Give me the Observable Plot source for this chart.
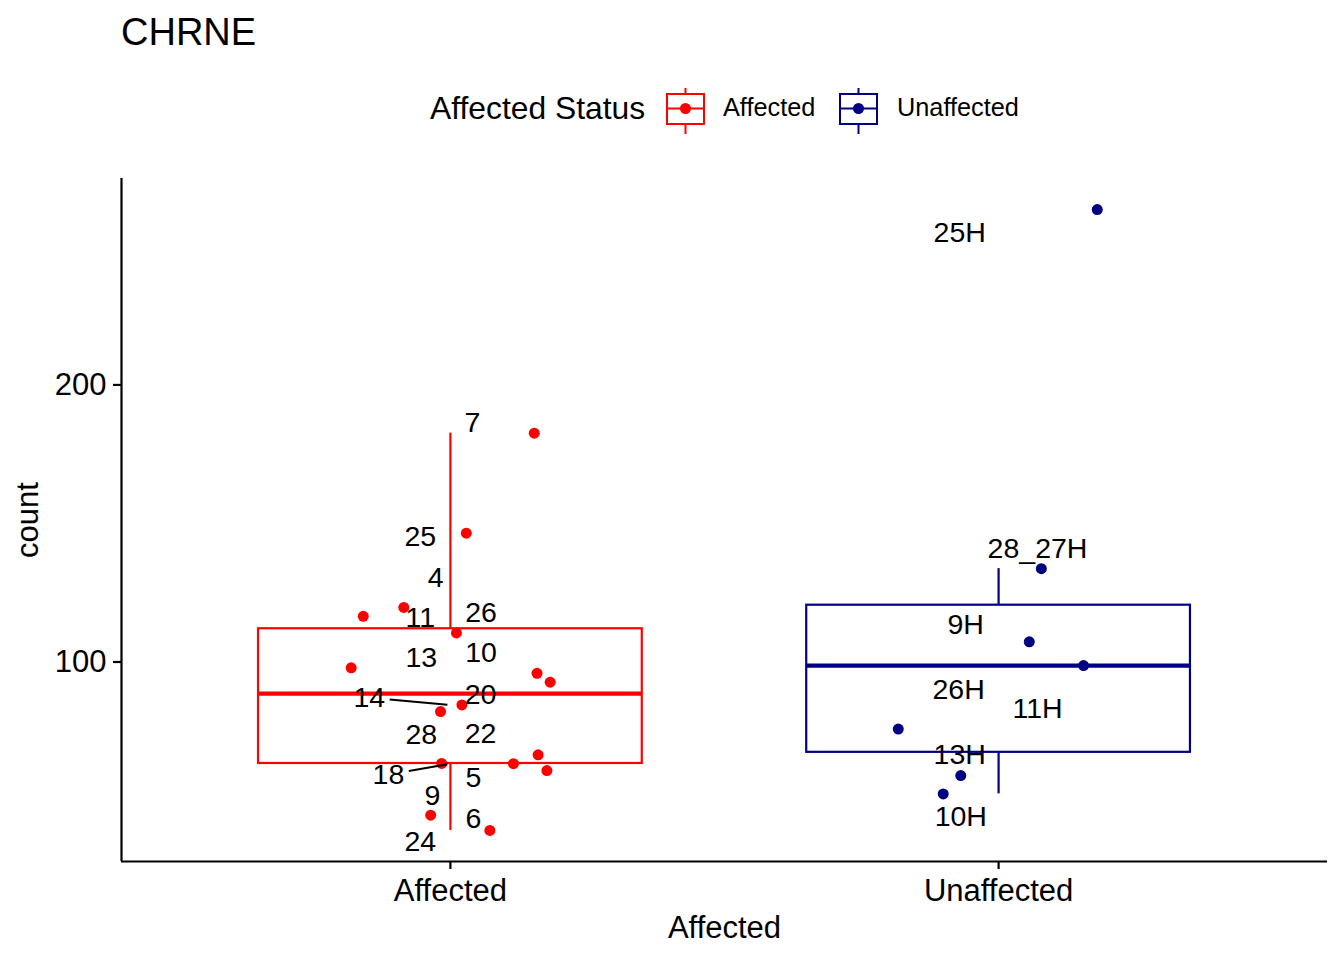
<!DOCTYPE html>
<html><head><meta charset="utf-8">
<script src="https://cdn.jsdelivr.net/npm/d3@7"></script>
<script src="https://cdn.jsdelivr.net/npm/@observablehq/plot@0.6"></script>
<style>
body{margin:0;background:#fff;font-family:"Liberation Sans",Arial,sans-serif;}
#header svg,#chart svg{display:block;}
</style></head><body>
<div id="header"></div>
<div id="chart"></div>
<script>
// ---- data ----
const title = "CHRNE";
const legendTitle = "Affected Status";
const groups = ["Affected", "Unaffected"];
const groupColors = ["#FF0000", "#000080"];
const yTicks = [100, 200];
const xTitle = "Affected";
const yTitle = "count";

const sampleGroup = [
  "Affected","Affected","Affected","Affected","Affected","Affected","Affected","Affected",
  "Affected","Affected","Affected","Affected","Affected","Affected","Affected","Affected",
  "Unaffected","Unaffected","Unaffected","Unaffected","Unaffected","Unaffected","Unaffected"
];
const sampleName = ["7","25","4","26","11","10","13","20","14","22","28","18","5","9","6","24",
  "25H","28_27H","9H","26H","11H","13H","10H"];
const sampleCount = [182.6,146.5,119.7,116.5,110.5,97.9,95.9,92.7,84.5,82.1,66.5,63.3,63.4,60.8,44.7,39.2,
  263.3,133.7,107.3,98.7,75.8,59.0,52.4];
// horizontal jitter of each point (category units)
const sampleJitter = [0.153,0.029,-0.085,-0.159,0.011,-0.181,0.158,0.182,0.021,-0.018,0.160,0.115,-0.016,0.176,-0.036,0.072,
  0.180,0.078,0.056,0.155,-0.183,-0.069,-0.101];
// repelled label positions (x in category units, y in count units)
const labelX = [1.040,0.945,0.973,1.056,0.945,1.056,0.947,1.055,0.852,1.055,0.947,0.887,1.042,0.967,1.042,0.945,
  1.929,2.071,1.940,1.927,2.071,1.929,1.931];
const labelY = [186.3,145.0,130.2,117.6,115.8,103.2,101.4,88.1,87.1,74.1,73.7,59.4,58.3,51.8,43.5,34.9,
  255.0,141.0,113.3,89.9,83.1,66.5,44.2];

// ---- layout ----
const FONT = '"Liberation Sans", Arial, sans-serif';
const W = 1344, H = 810, mL = 121, mR = 17, mT = 28, mB = 99;
const labelSize = 28.5, axisSize = 31;

const data = sampleName.map((name, i) => {
  const c = groups.indexOf(sampleGroup[i]) + 1;
  return {name, group: sampleGroup[i], count: sampleCount[i], cx: c, x: c + sampleJitter[i], lx: labelX[i], ly: labelY[i]};
});

const boxStats = groups.map((g, i) => {
  const v = data.filter(d => d.group === g).map(d => d.count).sort(d3.ascending);
  const q1 = d3.quantile(v, 0.25), med = d3.quantile(v, 0.5), q3 = d3.quantile(v, 0.75);
  const iqr = q3 - q1;
  const lo = d3.min(v.filter(x => x >= q1 - 1.5 * iqr));
  const hi = d3.max(v.filter(x => x <= q3 + 1.5 * iqr));
  return {group: g, x: i + 1, q1, med, q3, lo, hi};
});

const [ymin, ymax] = d3.extent(sampleCount);
const yPad = 0.05 * (ymax - ymin);
const yDomain = [ymin - yPad, ymax + yPad];
const xDomain = [1 - 0.6, groups.length + 0.6];
const boxHalf = 0.35;

// segments from labels to points (ggrepel-like)
const sx = d3.scaleLinear(xDomain, [mL, W - mR]);
const sy = d3.scaleLinear(yDomain, [H - mB, mT]);
const ctx = document.createElement("canvas").getContext("2d");
ctx.font = `${labelSize}px ${FONT}`;
const pad = 4.5, endGap = 3, minSeg = 30;
const segments = data.map(d => {
  const lx = sx(d.lx), ly = sy(d.ly), px = sx(d.cx), py = sy(d.count);
  const dx = px - lx, dy = py - ly, len = Math.hypot(dx, dy);
  const hw = ctx.measureText(d.name).width / 2 + pad, hh = 0.716 * labelSize / 2 + pad;
  const t = Math.min(dx ? hw / Math.abs(dx) : Infinity, dy ? hh / Math.abs(dy) : Infinity);
  if (t >= 1) return null;
  if ((1 - t) * len - endGap < minSeg) return null;
  const t2 = 1 - endGap / len;
  return {x1: sx.invert(lx + t * dx), y1: sy.invert(ly + t * dy), x2: sx.invert(lx + t2 * dx), y2: sy.invert(ly + t2 * dy)};
}).filter(Boolean);

// ---- header (title + legend) ----
const hdr = d3.select("#header").append("svg").attr("width", W).attr("height", 150)
  .style("font-family", FONT);
hdr.append("text").attr("x", 121).attr("y", 44.5).attr("font-size", 38).text(title);
hdr.append("text").attr("x", 430).attr("y", 118.5).attr("font-size", 31.8).text(legendTitle);
const keyX = [667, 840], labX = [723, 897];
groups.forEach((g, i) => {
  const c = groupColors[i], x0 = keyX[i], kw = 37, cx = x0 + kw / 2;
  const k = hdr.append("g").attr("stroke", c).attr("stroke-width", 2).attr("fill", "none");
  k.append("line").attr("x1", cx).attr("x2", cx).attr("y1", 88).attr("y2", 94);
  k.append("line").attr("x1", cx).attr("x2", cx).attr("y1", 124).attr("y2", 134);
  k.append("rect").attr("x", x0).attr("y", 94).attr("width", kw).attr("height", 30).attr("fill", "white");
  k.append("line").attr("x1", x0).attr("x2", x0 + kw).attr("y1", 108.5).attr("y2", 108.5);
  hdr.append("circle").attr("cx", cx).attr("cy", 108.5).attr("r", 5.5).attr("fill", c);
  hdr.append("text").attr("x", labX[i]).attr("y", 116).attr("font-size", 25.3).text(g);
});

// ---- chart ----
const chart = Plot.plot({
  width: W, height: H,
  marginLeft: mL, marginRight: mR, marginTop: mT, marginBottom: mB,
  x: {domain: xDomain},
  y: {domain: yDomain},
  color: {domain: groups, range: groupColors},
  style: {fontFamily: FONT, background: "white", color: "black"},
  marks: [
    Plot.ruleX(boxStats, {x: "x", y1: "q3", y2: "hi", stroke: "group", strokeWidth: 2.2}),
    Plot.ruleX(boxStats, {x: "x", y1: "lo", y2: "q1", stroke: "group", strokeWidth: 2.2}),
    Plot.rect(boxStats, {x1: d => d.x - boxHalf, x2: d => d.x + boxHalf, y1: "q1", y2: "q3", fill: "white", stroke: "group", strokeWidth: 2.2}),
    Plot.ruleY(boxStats, {y: "med", x1: d => d.x - boxHalf, x2: d => d.x + boxHalf, stroke: "group", strokeWidth: 4.3}),
    Plot.dot(data, {x: "x", y: "count", r: 5.5, fill: "group", stroke: null}),
    Plot.link(segments, {x1: "x1", y1: "y1", x2: "x2", y2: "y2", stroke: "black", strokeWidth: 2}),
    Plot.text(data, {x: "lx", y: "ly", text: "name", fontSize: labelSize, textAnchor: "middle", lineAnchor: "middle", fill: "black"}),
    Plot.ruleX([xDomain[0]], {stroke: "black", strokeWidth: 2.2}),
    Plot.ruleY([yDomain[0]], {stroke: "black", strokeWidth: 2.2}),
    Plot.axisY({ticks: yTicks, tickSize: 8, tickPadding: 7, fontSize: axisSize, strokeWidth: 2.2, label: null}),
    Plot.axisX({ticks: groups.map((g, i) => i + 1), tickFormat: d => groups[d - 1], tickSize: 8, tickPadding: 9, fontSize: axisSize, strokeWidth: 2.2, label: null}),
    Plot.text([xTitle], {frameAnchor: "bottom", dy: 67, text: d => d, fontSize: axisSize, textAnchor: "middle", lineAnchor: "middle", fill: "black"}),
    Plot.text([yTitle], {frameAnchor: "left", dx: -93, rotate: -90, text: d => d, fontSize: axisSize, textAnchor: "middle", lineAnchor: "middle", fill: "black"})
  ]
});
document.getElementById("chart").appendChild(chart);
</script>
</body></html>
